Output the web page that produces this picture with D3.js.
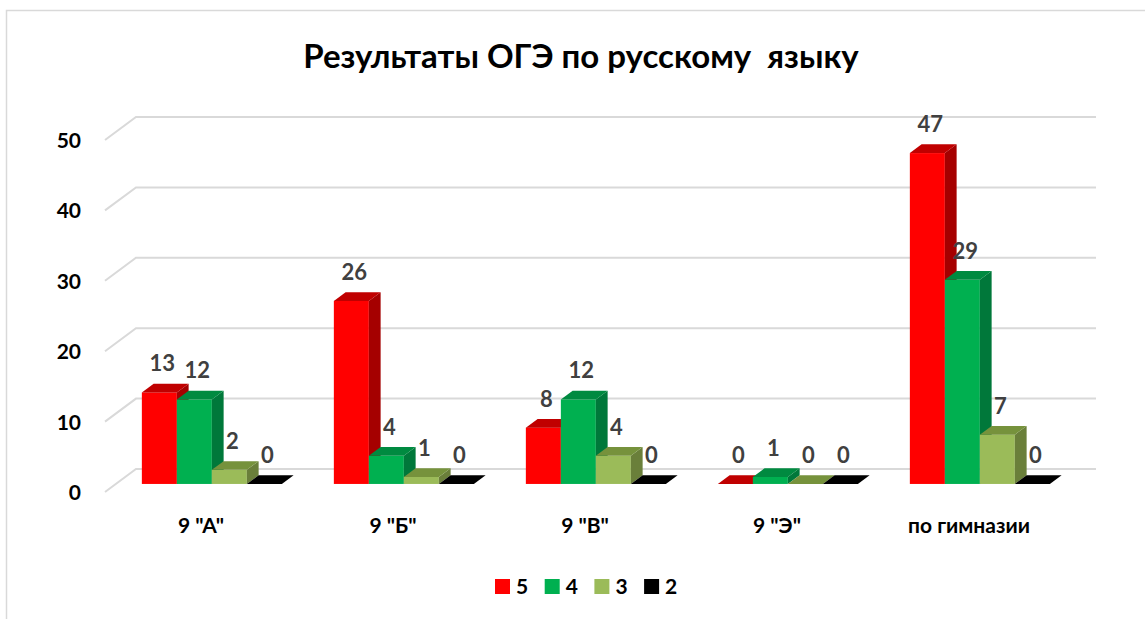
<!DOCTYPE html>
<html>
<head>
<meta charset="utf-8">
<script src="https://cdn.jsdelivr.net/npm/d3@7"></script>
<style>
  body { margin: 0; background: #fff; }
  text { font-family: Lato, "Open Sans", sans-serif; font-weight: bold; }
</style>
</head>
<body>
<div id="chart"></div>
<script>
var categories = ['9 "А"', '9 "Б"', '9 "В"', '9 "Э"', 'по гимназии'];
var seriesNames = ["5", "4", "3", "2"];
var grade5 = [13, 26, 8, 0, 47];
var grade4 = [12, 4, 12, 1, 29];
var grade3 = [2, 1, 4, 0, 7];
var grade2 = [0, 0, 0, 0, 0];
var yTicks = [0, 10, 20, 30, 40, 50];

(function(){
  var width = 1145,
    height = 619;

  var svg = d3.select("#chart")
    .append("svg")
    .attr("width", width)
    .attr("height", height);

  // colours: front, side, top
  var colors = [
    { front: "#ff0000", side: "#a50000", top: "#c00000" },
    { front: "#00b050", side: "#00783a", top: "#008a40" },
    { front: "#9bbb59", side: "#6a7f3a", top: "#76923c" },
    { front: "#000000", side: "#000000", top: "#000000" }
  ];

  var series = [grade5, grade4, grade3, grade2];

  // floor depth vector (front -> back wall)
  var depthX = 31, depthY = -23;
  // bars sit a bit behind the front edge
  var barT0 = 0.35, barT = 0.38;

  var x0 = d3.scaleBand().domain(categories).range([105, 1065]);
  var x1 = d3.scaleBand().domain(seriesNames).range([26, 166]);
  var y = d3.scaleLinear().domain([0, 50]).range([492, 140]);

  // chart border
  svg.append("path")
    .attr("d", "M6.5,619V10.5H1145")
    .attr("fill", "none")
    .attr("stroke", "#d9d9d9")
    .attr("stroke-width", 1.5);

  // title
  svg.append("text")
    .attr("x", 581)
    .attr("y", 68)
    .attr("text-anchor", "middle")
    .attr("font-size", 33)
    .attr("fill", "#000")
    .style("white-space", "pre")
    .text("Результаты ОГЭ по русскому  языку");

  // gridlines on back wall + side wall
  var grid = svg.append("g");
  yTicks.forEach(function(t){
    var fy = y(t);
    grid.append("path")
      .attr("d", "M105," + fy + "L" + (105 + depthX) + "," + (fy + depthY) +
        "H" + (1065 + depthX))
      .attr("fill", "none")
      .attr("stroke", "#d9d9d9")
      .attr("stroke-width", 2);
  });

  // y labels
  svg.selectAll(".ylab")
    .data(yTicks)
    .enter().append("text")
    .attr("class", "ylab")
    .attr("x", 81)
    .attr("y", function(d){ return y(d) + 8; })
    .attr("text-anchor", "end")
    .attr("font-size", 21)
    .attr("fill", "#000")
    .text(function(d){ return d; });

  // bars, drawn left to right so each front face covers previous side
  var bars = [];
  categories.forEach(function(c, ci){
    seriesNames.forEach(function(s, si){
      bars.push({ cat: c, s: s, si: si, value: series[si][ci] });
    });
  });

  var bx = depthX * barT0, by = depthY * barT0;
  var dx = depthX * barT, dy = depthY * barT;
  var bw = x1.bandwidth();

  var g = svg.selectAll(".bar")
    .data(bars)
    .enter().append("g")
    .attr("class", "bar");

  g.each(function(d){
    var el = d3.select(this);
    var left = x0(d.cat) + x1(d.s) + bx;
    var bottom = y(0) + by;
    var top = y(d.value) + by;
    var col = colors[d.si];
    // front
    el.append("rect")
      .attr("x", left)
      .attr("y", top)
      .attr("width", bw)
      .attr("height", bottom - top)
      .attr("fill", col.front);
    // side
    el.append("path")
      .attr("d", "M" + (left + bw) + "," + top +
        "L" + (left + bw + dx) + "," + (top + dy) +
        "L" + (left + bw + dx) + "," + (bottom + dy) +
        "L" + (left + bw) + "," + bottom + "Z")
      .attr("fill", col.side);
    // top
    el.append("path")
      .attr("d", "M" + left + "," + top +
        "L" + (left + dx) + "," + (top + dy) +
        "L" + (left + bw + dx) + "," + (top + dy) +
        "L" + (left + bw) + "," + top + "Z")
      .attr("fill", col.top);
  });

  // data labels
  svg.selectAll(".dlab")
    .data(bars)
    .enter().append("text")
    .attr("class", "dlab")
    .attr("x", function(d){ return x0(d.cat) + x1(d.s) + bx + bw / 2 + 3; })
    .attr("y", function(d){ return y(d.value) + by - 21; })
    .attr("text-anchor", "middle")
    .attr("font-size", 22)
    .attr("fill", "#404040")
    .text(function(d){ return d.value; });

  // category labels
  svg.selectAll(".xlab")
    .data(categories)
    .enter().append("text")
    .attr("class", "xlab")
    .attr("x", function(d){ return x0(d) + x0.bandwidth() / 2; })
    .attr("y", 533)
    .attr("text-anchor", "middle")
    .attr("font-size", 21)
    .attr("fill", "#000")
    .style("white-space", "pre")
    .text(function(d){ return d; });

  // legend
  var legend = svg.selectAll(".legend")
    .data(seriesNames)
    .enter().append("g")
    .attr("class", "legend")
    .attr("transform", function(d, i){ return "translate(" + (495 + i * 49.7) + ",579)"; });

  legend.append("rect")
    .attr("width", 15)
    .attr("height", 15)
    .attr("fill", function(d, i){ return colors[i].front; });

  legend.append("text")
    .attr("x", 21)
    .attr("y", 15)
    .attr("font-size", 21)
    .attr("fill", "#000")
    .text(function(d){ return d; });
})();
</script>
</body>
</html>
